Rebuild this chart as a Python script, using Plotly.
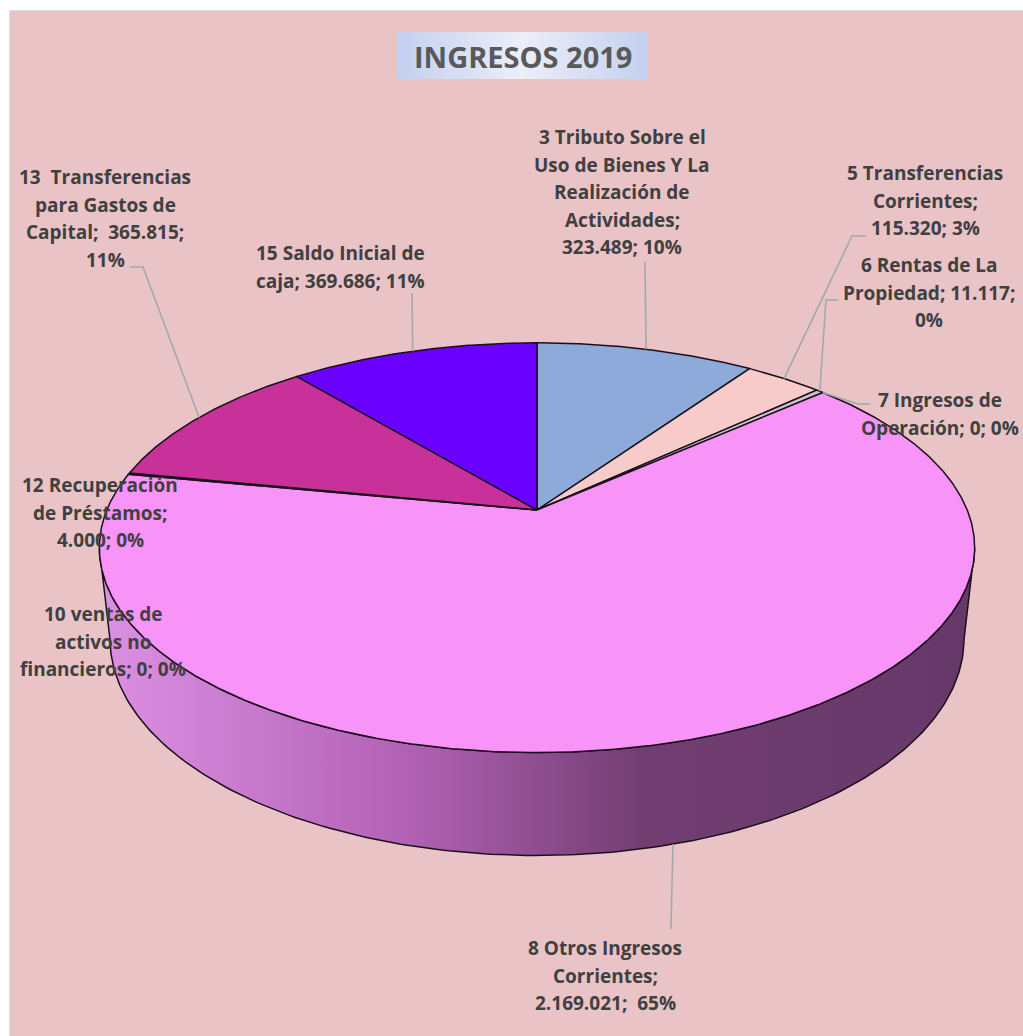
import numpy as np
import plotly.graph_objects as go

# ---- data -----------------------------------------------------------------
categories = [
    "3 Tributo Sobre el Uso de Bienes Y La Realización de Actividades",
    "5 Transferencias Corrientes",
    "6 Rentas de La Propiedad",
    "7 Ingresos de Operación",
    "8 Otros Ingresos Corrientes",
    "10 ventas de activos no financieros",
    "12 Recuperación de Préstamos",
    "13  Transferencias para Gastos de Capital",
    "15 Saldo Inicial de caja",
]
values = [323489, 115320, 11117, 0, 2169021, 0, 4000, 365815, 369686]

# label wrapping, {v} = value, {p} = percent
label_templates = [
    "3 Tributo Sobre el|Uso de Bienes Y La|Realización de|Actividades;|{v}; {p}",
    "5 Transferencias|Corrientes;|{v}; {p}",
    "6 Rentas de La|Propiedad; {v};|{p}",
    "7 Ingresos de|Operación; {v}; {p}",
    "8 Otros Ingresos|Corrientes;|{v};  {p}",
    "10 ventas de|activos no|financieros; {v}; {p}",
    "12 Recuperación|de Préstamos;|{v}; {p}",
    "13  Transferencias|para Gastos de|Capital;  {v};|{p}",
    "15 Saldo Inicial de|caja; {v}; {p}",
]

slice_colors = ["#8eaadb", "#f8cbcb", "#c9c2c8", "#d9d9d9", "#f893f8",
                "#b0b0b0", "#8a2a90", "#c8309a", "#6a00ff"]

# ---- styling / layout positions --------------------------------------------
W, HGT = 1023, 1036
BG = "#e9c3c6"
TEXT = "#404040"
LEADER = "#a3a9aa"
EDGE = "#1c0f1c"
FONT = "Open Sans"
LINE_STEP = 27.5

# label centre x and first-line y
label_pos = [(622, 137), (925, 173), (929, 265), (940, 400), (605, 948),
             (103, 614), (100, 485), (105, 177), (340, 253)]
# leader anchor points near the labels (None = no leader)
leader_anchor = [
    [(645, 262)],
    [(866, 236), (852, 236)],
    [(838, 300), (826, 300)],
    [(870, 404), (858, 404)],
    [(671, 929)],
    None,
    None,
    [(130, 267), (143, 267)],
    [(412, 293)],
]

# perspective projection of a tilted disc (angles clockwise from 12 o'clock)
D = 4.8
TILT = np.radians(28)
SIN, COS = np.sin(TILT), np.cos(TILT)
FX, FY = 2065, 2024
CX, CY = 537, 510
DEPTH = 0.248


def proj(theta_deg, r=1.0, z=0.0):
    t = np.radians(theta_deg)
    X, Y = r * np.sin(t), r * np.cos(t)
    u = Y * SIN + z * COS
    w = D + Y * COS - z * SIN
    return CX + FX * X / w, CY - FY * u / w


def fmt_num(v):
    return f"{v:,}".replace(",", ".")


total = sum(values)
fractions = [v / total for v in values]
ends = np.cumsum(fractions) * 360.0
starts = np.concatenate([[0.0], ends[:-1]])
mids = (starts + ends) / 2

fig = go.Figure()

# textured-paper style background panel
fig.add_shape(type="rect", x0=10, y0=11, x1=W + 5, y1=HGT + 5,
              fillcolor=BG, line=dict(color="#d4d0d0", width=1.5), layer="below")

# side wall (only the part facing the viewer)
sil = np.degrees(np.arccos(-COS / D))
vis_lo, vis_hi = sil, 360 - sil
for i, v in enumerate(values):
    a0, a1 = max(starts[i], vis_lo), min(ends[i], vis_hi)
    if v <= 0 or a1 <= a0:
        continue
    th = np.linspace(a0, a1, 200)
    xt, yt = proj(th)
    xb, yb = proj(th[::-1], z=-DEPTH)
    fig.add_trace(go.Scatter(
        x=np.concatenate([xt, xb, xt[:1]]), y=np.concatenate([yt, yb, yt[:1]]),
        mode="lines", fill="toself",
        fillgradient=dict(type="horizontal", colorscale=[
            [0.0, "rgb(220,144,228)"], [0.35, "rgb(178,98,180)"],
            [0.62, "rgb(114,62,114)"], [1.0, "rgb(102,56,104)"]]),
        line=dict(color=EDGE, width=1.5), hoverinfo="skip", showlegend=False))

# top faces of the slices
for i, v in enumerate(values):
    if v <= 0:
        continue
    n = max(4, int((ends[i] - starts[i]) * 3))
    th = np.linspace(starts[i], ends[i], n)
    xs, ys = proj(th)
    fig.add_trace(go.Scatter(
        x=np.concatenate([[CX], xs, [CX]]), y=np.concatenate([[CY], ys, [CY]]),
        mode="lines", fill="toself", fillcolor=slice_colors[i],
        line=dict(color=EDGE, width=1.5), name=categories[i],
        hoverinfo="skip", showlegend=False))

# leader lines
for i, anchor in enumerate(leader_anchor):
    if anchor is None:
        continue
    # the big front slice connects from the bottom edge of its wall
    z = -DEPTH if 90 < mids[i] < 270 else 0.0
    px, py = proj(mids[i], z=z)
    xs = [p[0] for p in anchor] + [px]
    ys = [p[1] for p in anchor] + [py]
    fig.add_trace(go.Scatter(x=xs, y=ys, mode="lines",
                             line=dict(color=LEADER, width=1.6),
                             hoverinfo="skip", showlegend=False))

# data labels
for i, tpl in enumerate(label_templates):
    pct = f"{round(fractions[i] * 100)}%"
    text = tpl.format(v=fmt_num(values[i]), p=pct)
    cx, y0 = label_pos[i]
    for k, line in enumerate(text.split("|")):
        fig.add_annotation(x=cx, y=y0 + k * LINE_STEP, text=line, showarrow=False,
                           xanchor="center", yanchor="middle",
                           font=dict(family=FONT, size=19, color=TEXT, weight="bold"))

# title box with a soft blue gradient
tx0, tx1, ty0, ty1 = 397, 648, 32, 79
fig.add_trace(go.Scatter(
    x=[tx0, tx1, tx1, tx0, tx0], y=[ty0, ty0, ty1, ty1, ty0],
    mode="lines", fill="toself", line=dict(width=0),
    fillgradient=dict(type="horizontal", colorscale=[
        [0, "#c3d0ef"], [0.5, "#eceef9"], [1, "#c3d0ef"]]),
    hoverinfo="skip", showlegend=False))
fig.add_annotation(x=(tx0 + tx1) / 2, y=(ty0 + ty1) / 2 + 1, text="INGRESOS 2019",
                   showarrow=False, xanchor="center", yanchor="middle",
                   font=dict(family=FONT, size=29, color="#595959", weight="bold"))

fig.update_layout(
    width=W, height=HGT, margin=dict(l=0, r=0, t=0, b=0),
    paper_bgcolor="white", plot_bgcolor="rgba(0,0,0,0)",
    xaxis=dict(range=[0, W], visible=False, fixedrange=True),
    yaxis=dict(range=[HGT, 0], visible=False, fixedrange=True),
    showlegend=False,
)

fig.write_html("out.html")
